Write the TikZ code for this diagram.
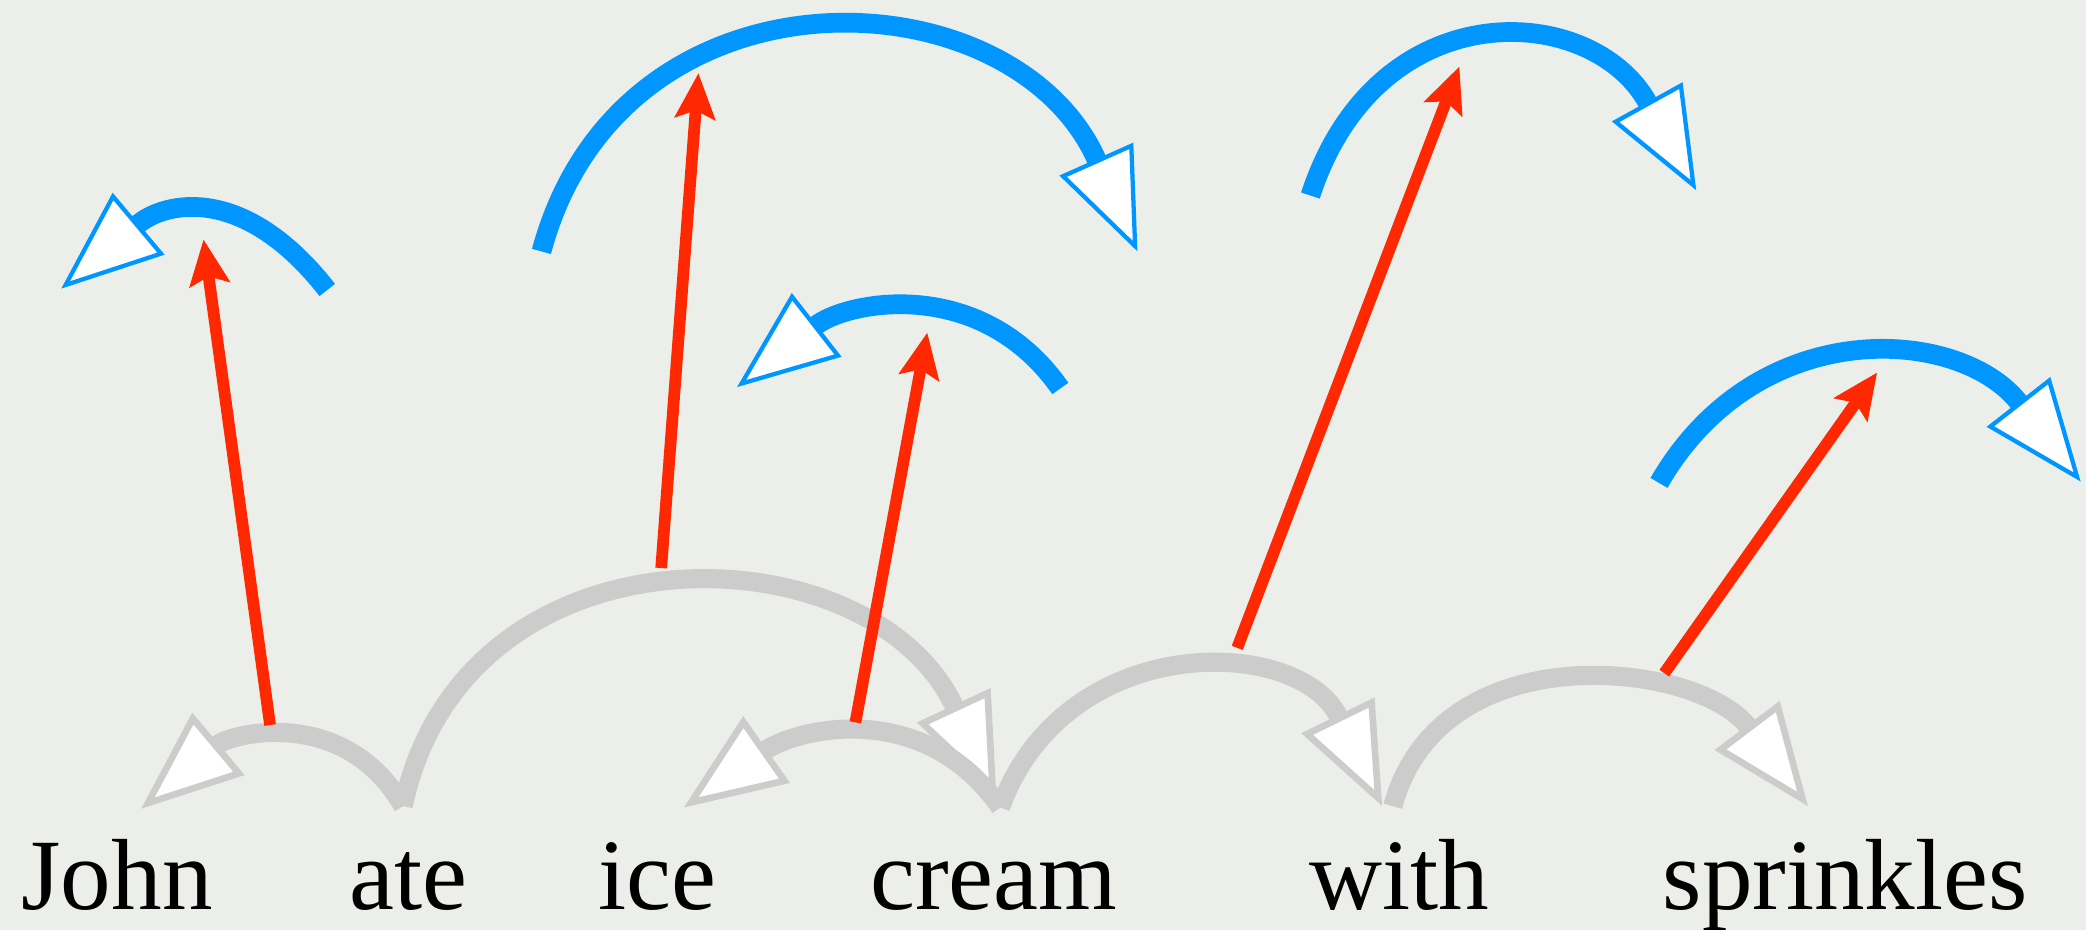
\documentclass[tikz,border=0pt]{standalone}
\usepackage{fontspec}
\setmainfont{Liberation Serif}
\usetikzlibrary{arrows.meta}

\definecolor{depBg}{RGB}{236,238,234}
\definecolor{depGray}{RGB}{204,204,204}
\definecolor{depBlue}{RGB}{0,150,255}
\definecolor{depRed}{RGB}{255,40,0}

\tikzset{
  word/.style={font=\fontsize{38}{40}\selectfont, inner sep=0pt, anchor=base},
  grayarc/.style={draw=depGray, line width=7.2pt, -{Triangle[length=38pt, width=30pt, line width'=2.5pt, fill=white]}},
  bluearc/.style={draw=depBlue, line width=7.4pt, -{Triangle[length=38pt, width=30pt, line width'=1.6pt, fill=white]}},
  redarrow/.style={draw=depRed, line width=4.4pt, -{Stealth[length=17pt, width=15pt, inset=3pt]}},
}

\begin{document}
\begin{tikzpicture}[x=0.5pt, y=0.5pt]
  \fill[depBg] (0,0) rectangle (1568,699);
  \useasboundingbox (0,0) rectangle (1568,699);
  \node[word] (john) at (88,15) {John};
  \node[word] (ate) at (307,15) {ate};
  \node[word] (ice) at (494,15) {ice};
  \node[word] (cream) at (747,15) {cream};
  \node[word] (with) at (1052,15) {with};
  \node[word] (sprinkles) at (1387,15) {sprinkles};
  \coordinate (ate-hub) at (303,93);
  \coordinate (cream-hub) at (752,92);
  \coordinate (with-hub) at (1047,93);
  \coordinate (john-tip) at (106,91);
  \coordinate (ice-tip) at (514,92);
  \coordinate (cream-tip) at (749,100);
  \coordinate (with-tip) at (1039,93);
  \coordinate (sprinkles-tip) at (1359,93);
  \draw[grayarc] (ate-hub) to[out=120, in=40, looseness=1.14] (john-tip);
  \draw[grayarc] (ate-hub) to[out=78, in=115, looseness=1.28] (cream-tip);
  \draw[grayarc] (cream-hub) to[out=125, in=35, looseness=1.1] (ice-tip);
  \draw[grayarc] (cream-hub) to[out=70, in=116, looseness=1.27] (with-tip);
  \draw[grayarc] (with-hub) to[out=75, in=127, looseness=1.12] (sprinkles-tip);
  \coordinate (b1-from) at (246,481);
  \coordinate (b1-to) at (46,482);
  \coordinate (b2-from) at (407,510);
  \coordinate (b2-to) at (855,510);
  \coordinate (b3-from) at (797,407);
  \coordinate (b3-to) at (554,408);
  \coordinate (b4-from) at (985,552);
  \coordinate (b4-to) at (1275,556);
  \coordinate (b5-from) at (1247,336);
  \coordinate (b5-to) at (1564,337);
  \draw[bluearc] (b1-from) to[out=128, in=40, looseness=1.3] (b1-to);
  \draw[bluearc] (b2-from) to[out=75, in=114, looseness=1.32] (b2-to);
  \draw[bluearc] (b3-from) to[out=125, in=38, looseness=1.1] (b3-to);
  \draw[bluearc] (b4-from) to[out=72, in=119, looseness=1.43] (b4-to);
  \draw[bluearc] (b5-from) to[out=60, in=128, looseness=1.19] (b5-to);
  \coordinate (r1-from) at (203,154);
  \coordinate (r1-to) at (153,519);
  \coordinate (r2-from) at (497,272);
  \coordinate (r2-to) at (525,644);
  \coordinate (r3-from) at (643,156);
  \coordinate (r3-to) at (697,449);
  \coordinate (r4-from) at (930,212);
  \coordinate (r4-to) at (1097,649);
  \coordinate (r5-from) at (1251,193);
  \coordinate (r5-to) at (1411,419);
  \draw[redarrow] (r1-from) -- (r1-to);
  \draw[redarrow] (r2-from) -- (r2-to);
  \draw[redarrow] (r3-from) -- (r3-to);
  \draw[redarrow] (r4-from) -- (r4-to);
  \draw[redarrow] (r5-from) -- (r5-to);
\end{tikzpicture}
\end{document}
